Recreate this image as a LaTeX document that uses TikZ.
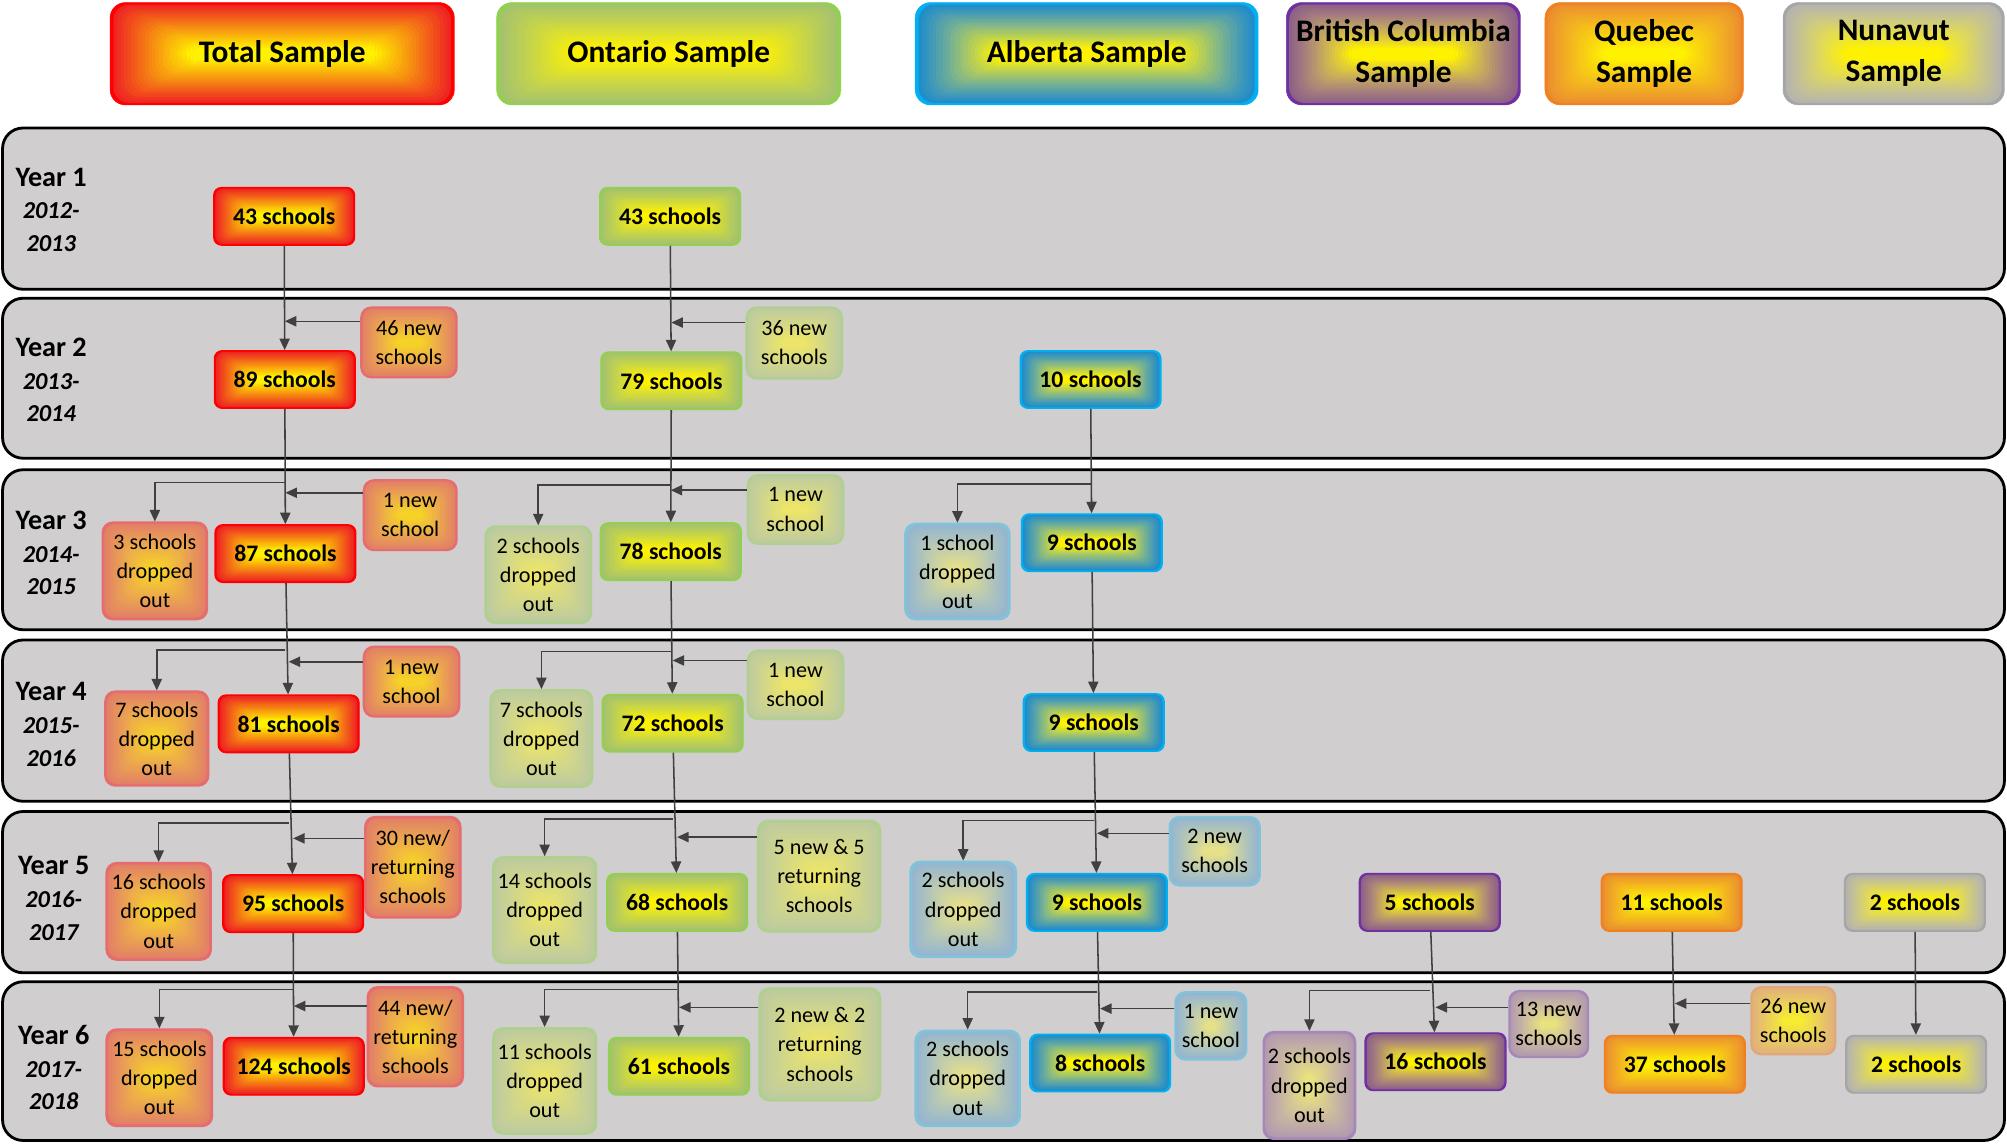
\documentclass[tikz,border=0pt]{standalone}
\usepackage{fontspec}
\setmainfont{Carlito}
\usetikzlibrary{arrows.meta}

\definecolor{bandgray}{RGB}{208,206,206}
\definecolor{arrowgray}{RGB}{64,64,64}
\definecolor{ontgreen}{RGB}{146,208,80}
\definecolor{albblue}{RGB}{0,176,240}
\definecolor{bcpurple}{RGB}{112,48,160}
\definecolor{qcorange}{RGB}{240,128,32}
\definecolor{nugray}{RGB}{166,166,166}
\colorlet{glowin}{yellow}
\colorlet{glowedge}{red}

\tikzset{
  % edge colour running in to a yellow centre, in rectangular rings
  glow/.style 2 args={/utils/exec={\colorlet{glowin}{#1}\colorlet{glowedge}{#2}}, draw=glowedge,
    path picture={
      \pgfpointdiff{\pgfpointanchor{path picture bounding box}{south west}}{\pgfpointanchor{path picture bounding box}{north east}}
      \pgfgetlastxy{\bw}{\bh}
      \pgfmathsetmacro\bm{min(\bw,\bh)}
      \foreach \k in {0,...,24}{
        \pgfmathsetmacro\dx{\k/25*(0.7*\bm+0.3*\bw)/2}
        \pgfmathsetmacro\dy{\k/25*(0.7*\bm+0.3*\bh)/2}
        \pgfmathtruncatemacro\p{min(100,100*\k/22)}
        \fill[glowin!\p!glowedge] ([xshift=\dx pt, yshift=\dy pt]path picture bounding box.south west)
          rectangle ([xshift=-\dx pt, yshift=-\dy pt]path picture bounding box.north east);
      }}},
  wh/.style 2 args={minimum width=#1pt, minimum height=#2pt},
  headbox/.style={rounded corners=12pt, minimum height=80pt, inner sep=0pt, align=center, font=\fontsize{24.5}{32}\selectfont\bfseries},
  countbox/.style={rounded corners=6pt, wh={110}{45}, inner sep=0pt, line width=1pt, font=\fontsize{18.5}{22}\selectfont\bfseries},
  notebox/.style={rounded corners=8pt, inner sep=0pt, line width=1.2pt, align=center, font=\fontsize{17.3}{22.7}\selectfont},
  yearlabel/.style={align=center, font=\fontsize{19}{25.5}\selectfont\bfseries\itshape},
  band/.style={draw=black, line width=2.2pt, fill=bandgray, rounded corners=16pt},
  flow/.style={draw=arrowgray, line width=1.2pt, ->},
  tot/.style={glow={yellow}{red}},
  ont/.style={glow={yellow}{ontgreen}},
  alb/.style={glow={yellow}{albblue}},
  bc/.style={glow={yellow}{bcpurple}},
  qc/.style={glow={yellow}{qcorange}},
  nu/.style={glow={yellow}{nugray}},
  totnote/.style={notebox, glow={yellow!70!orange!85!bandgray}{red!47!bandgray}},
  ontnote/.style={notebox, glow={yellow!55!bandgray}{ontgreen!50!bandgray}},
  albnote/.style={notebox, glow={yellow!40!bandgray}{albblue!38!bandgray}},
  bcnote/.style={notebox, glow={yellow!45!bandgray}{bcpurple!45!bandgray}},
  qcnote/.style={notebox, glow={yellow!80!bandgray}{qcorange!50!bandgray}},
}

\begin{document}
\begin{tikzpicture}[x=1pt, y=-1pt, >={Triangle[length=9pt,width=8pt]}]
\useasboundingbox (0,0) rectangle (1568,893);

% headers
\node[headbox, tot, minimum width=269pt] (htot) at (220.5,42) {Total Sample};
\node[headbox, ont, minimum width=269pt] (hont) at (522.5,42) {Ontario Sample};
\node[headbox, alb, minimum width=268pt] (halb) at (849,42) {Alberta Sample};
\node[headbox, bc, minimum width=183pt] (hbc) at (1096.5,42) {British Columbia\\Sample};
\node[headbox, qc, minimum width=155pt] (hqc) at (1284.5,42) {Quebec\\Sample};
\node[headbox, nu, minimum width=173pt] (hnu) at (1479.5,42) {Nunavut\\Sample};

% year bands
\foreach \top/\bot in {100/226, 233/358, 367/492, 500/626, 634/760, 767/891}
  \draw[band] (2,\top) rectangle (1566,\bot);

\node[yearlabel] (yr1) at (40,164) {{\fontsize{22}{25.5}\selectfont\upshape Year 1}\\2012-\\2013};
\node[yearlabel] (yr2) at (40,297) {{\fontsize{22}{25.5}\selectfont\upshape Year 2}\\2013-\\2014};
\node[yearlabel] (yr3) at (40,432) {{\fontsize{22}{25.5}\selectfont\upshape Year 3}\\2014-\\2015};
\node[yearlabel] (yr4) at (40,566) {{\fontsize{22}{25.5}\selectfont\upshape Year 4}\\2015-\\2016};
\node[yearlabel] (yr5) at (42,702) {{\fontsize{22}{25.5}\selectfont\upshape Year 5}\\2016-\\2017};
\node[yearlabel] (yr6) at (42,834) {{\fontsize{22}{25.5}\selectfont\upshape Year 6}\\2017-\\2018};

% total sample
\node[countbox, tot] (tot1) at (222,169) {43 schools};
\node[countbox, tot] (tot2) at (222.5,296.5) {89 schools};
\node[countbox, tot] (tot3) at (223,432.5) {87 schools};
\node[countbox, tot] (tot4) at (225.5,565.5) {81 schools};
\node[countbox, tot] (tot5) at (229,706) {95 schools};
\node[countbox, tot] (tot6) at (229.5,833) {124 schools};
\node[totnote, wh={75}{55}] (totnew2) at (319.5,267.5) {46 new\\schools};
\node[totnote, wh={73}{55}] (totnew3) at (320.5,402.5) {1 new\\school};
\node[totnote, wh={75}{55}] (totnew4) at (321.5,532.5) {1 new\\school};
\node[totnote, wh={75}{79}] (totnew5) at (322.5,677.5) {30 new/\\returning\\schools};
\node[totnote, wh={75}{78}] (totnew6) at (324.5,810) {44 new/\\returning\\schools};
\node[totnote, wh={82}{76}] (totout3) at (121,446) {3 schools\\dropped\\out};
\node[totnote, wh={81}{74}] (totout4) at (122.5,577) {7 schools\\dropped\\out};
\node[totnote, wh={82}{76}] (totout5) at (124,712) {16 schools\\dropped\\out};
\node[totnote, wh={83}{76}] (totout6) at (124.5,842) {15 schools\\dropped\\out};

% ontario sample
\node[countbox, ont] (ont1) at (523.5,169) {43 schools};
\node[countbox, ont] (ont2) at (524.5,297.5) {79 schools};
\node[countbox, ont] (ont3) at (524,431) {78 schools};
\node[countbox, ont] (ont4) at (525.5,565) {72 schools};
\node[countbox, ont] (ont5) at (529,705) {68 schools};
\node[countbox, ont] (ont6) at (530.5,833) {61 schools};
\node[ontnote, wh={75}{56}] (ontnew2) at (620.5,268) {36 new\\schools};
\node[ontnote, wh={75}{54}] (ontnew3) at (621.5,398) {1 new\\school};
\node[ontnote, wh={75}{54}] (ontnew4) at (621.5,535) {1 new\\school};
\node[ontnote, wh={96}{87}] (ontnew5) at (640,684.5) {5 new \& 5\\returning\\schools};
\node[ontnote, wh={95}{88}] (ontnew6) at (640.5,816) {2 new \& 2\\returning\\schools};
\node[ontnote, wh={83}{76}] (ontout3) at (420.5,449) {2 schools\\dropped\\out};
\node[ontnote, wh={80}{76}] (ontout4) at (423,577) {7 schools\\dropped\\out};
\node[ontnote, wh={81}{83}] (ontout5) at (425.5,711) {14 schools\\dropped\\out};
\node[ontnote, wh={81}{83}] (ontout6) at (425.5,844.5) {11 schools\\dropped\\out};

% alberta sample
\node[countbox, alb] (alb2) at (852,296.5) {10 schools};
\node[countbox, alb] (alb3) at (853,424) {9 schools};
\node[countbox, alb] (alb4) at (854.5,564.5) {9 schools};
\node[countbox, alb] (alb5) at (857,705) {9 schools};
\node[countbox, alb] (alb6) at (859.5,830.5) {8 schools};
\node[albnote, wh={82}{75}] (albout3) at (748,446.5) {1 school\\dropped\\out};
\node[albnote, wh={71}{54}] (albnew5) at (949,665) {2 new\\schools};
\node[albnote, wh={83}{75}] (albout5) at (752.5,710.5) {2 schools\\dropped\\out};
\node[albnote, wh={56}{53}] (albnew6) at (946,801.5) {1 new\\school};
\node[albnote, wh={82}{75}] (albout6) at (756,842.5) {2 schools\\dropped\\out};

% british columbia, quebec, nunavut
\node[countbox, bc] (bc5) at (1117,705) {5 schools};
\node[countbox, bc] (bc6) at (1121.5,829.5) {16 schools};
\node[bcnote, wh={62}{52}] (bcnew6) at (1210,800) {13 new\\schools};
\node[bcnote, wh={72}{84}] (bcout6) at (1023,848) {2 schools\\dropped\\out};
\node[countbox, qc] (qc5) at (1306,705) {11 schools};
\node[countbox, qc] (qc6) at (1308.5,831.5) {37 schools};
\node[qcnote, wh={66}{53}] (qcnew6) at (1401,797.5) {26 new\\schools};
\node[countbox, nu] (nu5) at (1496,705) {2 schools};
\node[countbox, nu] (nu6) at (1497,831.5) {2 schools};

% total flows
\draw[flow] (tot1) -- (tot2);
\draw[flow] (totnew2.west |- 0,251) -- (tot2.north |- 0,251);
\draw[flow] (tot2) -- (tot3);
\draw[flow] (tot2.south |- 0,377) -| (totout3.north);
\draw[flow] (totnew3.west |- 0,385) -- (tot3.north |- 0,385);
\draw[flow] (tot3) -- (tot4);
\draw[flow] (tot3.south |- 0,508) -| (totout4.north);
\draw[flow] (totnew4.west |- 0,517) -- (tot4.north |- 0,517);
\draw[flow] (tot4) -- (tot5);
\draw[flow] (tot4.south |- 0,643) -| (totout5.north);
\draw[flow] (totnew5.west |- 0,655) -- (tot5.north |- 0,655);
\draw[flow] (tot5) -- (tot6);
\draw[flow] (tot5.south |- 0,773) -| (totout6.north);
\draw[flow] (totnew6.west |- 0,786) -- (tot6.north |- 0,786);

% ontario flows
\draw[flow] (ont1) -- (ont2);
\draw[flow] (ontnew2.west |- 0,252) -- (ont2.north |- 0,252);
\draw[flow] (ont2) -- (ont3);
\draw[flow] (ont2.south |- 0,379) -| (ontout3.north);
\draw[flow] (ontnew3.west |- 0,383) -- (ont3.north |- 0,383);
\draw[flow] (ont3) -- (ont4);
\draw[flow] (ont3.south |- 0,509) -| (ontout4.north);
\draw[flow] (ontnew4.west |- 0,516) -- (ont4.north |- 0,516);
\draw[flow] (ont4) -- (ont5);
\draw[flow] (ont4.south |- 0,640) -| (ontout5.north);
\draw[flow] (ontnew5.west |- 0,654) -- (ont5.north |- 0,654);
\draw[flow] (ont5) -- (ont6);
\draw[flow] (ont5.south |- 0,773) -| (ontout6.north);
\draw[flow] (ontnew6.west |- 0,787) -- (ont6.north |- 0,787);

% alberta flows
\draw[flow] (alb2) -- (alb3);
\draw[flow] (alb2.south |- 0,378) -| (albout3.north);
\draw[flow] (alb3) -- (alb4);
\draw[flow] (alb4) -- (alb5);
\draw[flow] (alb4.south |- 0,641) -| (albout5.north);
\draw[flow] (albnew5.west |- 0,651) -- (alb5.north |- 0,651);
\draw[flow] (alb5) -- (alb6);
\draw[flow] (alb5.south |- 0,775) -| (albout6.north);
\draw[flow] (albnew6.west |- 0,788) -- (alb6.north |- 0,788);

% other provinces
\draw[flow] (bc5) -- (bc6);
\draw[flow] (bc5.south |- 0,774) -| (bcout6.north);
\draw[flow] (bcnew6.west |- 0,787) -- (bc6.north |- 0,787);
\draw[flow] (qc5) -- (qc6);
\draw[flow] (qcnew6.west |- 0,784) -- (qc6.north |- 0,784);
\draw[flow] (nu5) -- (nu6);
\end{tikzpicture}
\end{document}
